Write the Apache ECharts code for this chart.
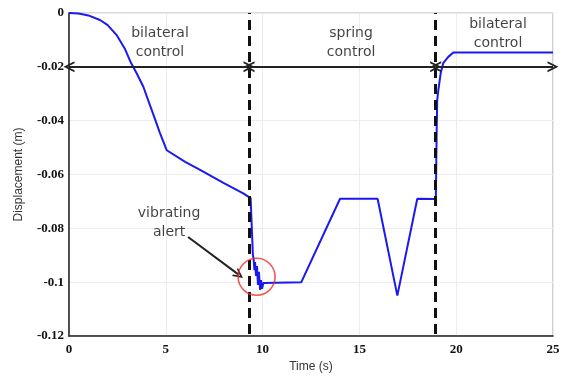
<!DOCTYPE html>
<html>
<head>
<meta charset="utf-8">
<script src="https://cdn.jsdelivr.net/npm/echarts@6/dist/echarts.min.js"></script>
<style>
html,body{margin:0;padding:0;background:#fff;}
#main{width:570px;height:379px;}
</style>
</head>
<body>
<div id="main"></div>
<script>
// displacement curve
let time_s = [0, 0.5, 1.0, 1.6, 2.0, 2.46, 2.9, 3.2, 3.5, 3.84, 4.27, 4.7, 5.05,
    6.0, 6.77, 8.0, 9.0, 9.38, 9.47, 9.5,
    9.53, 9.58, 9.61, 9.66, 9.71, 9.76, 9.81, 9.87, 9.92, 9.97, 10.04,
    12.0, 14.0, 15.94, 16.96, 17.99, 18.92, 18.95,
    18.99, 19.02, 19.08, 19.2, 19.33, 19.59, 19.85, 25];
let disp_m = [0, -0.0002, -0.0009, -0.0026, -0.0045, -0.0082, -0.0135, -0.0185, -0.0225, -0.0274, -0.036, -0.0446, -0.051,
    -0.0553, -0.0583, -0.0632, -0.0670, -0.0688, -0.0695, -0.090,
    -0.091, -0.0955, -0.0925, -0.0977, -0.094, -0.101, -0.0962, -0.1029, -0.0992, -0.1025, -0.1003,
    -0.1, -0.069, -0.069, -0.105, -0.069, -0.0691, -0.068,
    -0.0446, -0.0323, -0.0286, -0.0223, -0.0186, -0.0163, -0.0147, -0.0147];

// mode switch instants (dashed lines)
let switch_t = [9.3, 18.94];
let arrow_y = -0.02;
let phase_start = [0, 9.3, 18.94];
let phase_end = [9.3, 18.94, 25];
let phase_text = ['bilateral\ncontrol', 'spring\ncontrol', 'bilateral\ncontrol'];
let phase_pos = [[4.7, -0.0112], [14.57, -0.0112], [22.16, -0.0078]];

let alert_text = 'vibrating\nalert';
let alert_pos = [5.17, -0.0778];
let alert_arrow = [[6.15, -0.0832], [8.78, -0.0973]];
let circle_pos = [9.69, -0.098];

let curve = [];
for (let i = 0; i < time_s.length; i++) {
    curve.push([time_s[i], disp_m[i]]);
}

let chevron = 'path://M0,10 L5,0 L10,10 L8.2,10 L5,3.6 L1.8,10 Z';

let arrow_lines = [];
for (let i = 0; i < phase_start.length; i++) {
    arrow_lines.push([{coord: [phase_start[i], arrow_y]}, {coord: [phase_end[i], arrow_y]}]);
}

let text_points = [];
for (let i = 0; i < phase_text.length; i++) {
    text_points.push({value: phase_pos[i], label: {formatter: phase_text[i]}});
}
text_points.push({value: alert_pos, label: {formatter: alert_text}});

let myChart = echarts.init(document.getElementById('main'));

let option = {
    animation: false,
    grid: {
        left: 69, right: 17, top: 13, bottom: 43,
        show: true,
        borderColor: '#b4b4b4',
        borderWidth: 1.2
    },
    xAxis: {
        type: 'value',
        min: 0, max: 25, interval: 5,
        name: 'Time (s)',
        nameLocation: 'middle',
        nameGap: 22,
        nameTextStyle: {fontFamily: 'Liberation Sans', fontSize: 12, color: '#333'},
        axisLine: {onZero: false, lineStyle: {color: '#222', width: 1.5}},
        axisTick: {show: false},
        axisLabel: {
            fontFamily: 'Liberation Serif', fontWeight: 'bold', fontSize: 13, color: '#111', margin: 7
        },
        splitLine: {show: true, lineStyle: {color: '#ececec', width: 1}}
    },
    yAxis: {
        type: 'value',
        min: -0.12, max: 0, interval: 0.02,
        name: 'Displacement (m)',
        nameLocation: 'middle',
        nameGap: 44,
        nameTextStyle: {fontFamily: 'Liberation Sans', fontSize: 12, color: '#333'},
        axisLine: {show: true, onZero: false, lineStyle: {color: '#222', width: 1.5}},
        axisTick: {show: false},
        axisLabel: {
            fontFamily: 'Liberation Serif', fontWeight: 'bold', fontSize: 13, color: '#111', margin: 5
        },
        splitLine: {show: true, lineStyle: {color: '#ececec', width: 1}}
    },
    series: [
        {
            name: 'displacement',
            type: 'line',
            data: curve,
            showSymbol: false,
            lineStyle: {color: '#1a1af0', width: 2},
            z: 3
        },
        {
            // mode switch lines
            type: 'line',
            data: [],
            markLine: {
                silent: true,
                animation: false,
                label: {show: false},
                symbol: ['none', 'none'],
                data: switch_t.map(function(t){
                    return {xAxis: t, lineStyle: {color: '#111', width: 3, type: [10, 6], dashOffset: -2}};
                })
            },
            z: 4
        },
        {
            // phase arrows
            type: 'line',
            data: [],
            markLine: {
                silent: true,
                animation: false,
                label: {show: false},
                symbol: [chevron, chevron],
                symbolSize: [11, 11],
                lineStyle: {color: '#222', width: 2, type: 'solid'},
                data: arrow_lines
            },
            z: 5
        },
        {
            type: 'line',
            data: [],
            markLine: {
                silent: true,
                animation: false,
                label: {show: false},
                symbol: ['none', chevron],
                symbolSize: [10, 10],
                lineStyle: {color: '#222', width: 2, type: 'solid'},
                data: [[{coord: alert_arrow[0]}, {coord: alert_arrow[1]}]]
            },
            z: 5
        },
        {
            // red circle round the vibration
            type: 'scatter',
            data: [circle_pos],
            symbol: 'circle',
            symbolSize: 37,
            itemStyle: {color: 'rgba(0,0,0,0)', borderColor: '#e8322a', borderWidth: 1.6},
            silent: true,
            z: 6
        },
        {
            type: 'scatter',
            data: text_points,
            symbolSize: 0,
            silent: true,
            label: {
                show: true,
                position: 'inside',
                fontFamily: 'DejaVu Sans',
                fontSize: 14,
                lineHeight: 19,
                color: '#111',
                align: 'center'
            },
            z: 7
        }
    ]
};
myChart.clear();
myChart.setOption(option);
window.onresize = function(){
    myChart.resize();
}
</script>
</body>
</html>
